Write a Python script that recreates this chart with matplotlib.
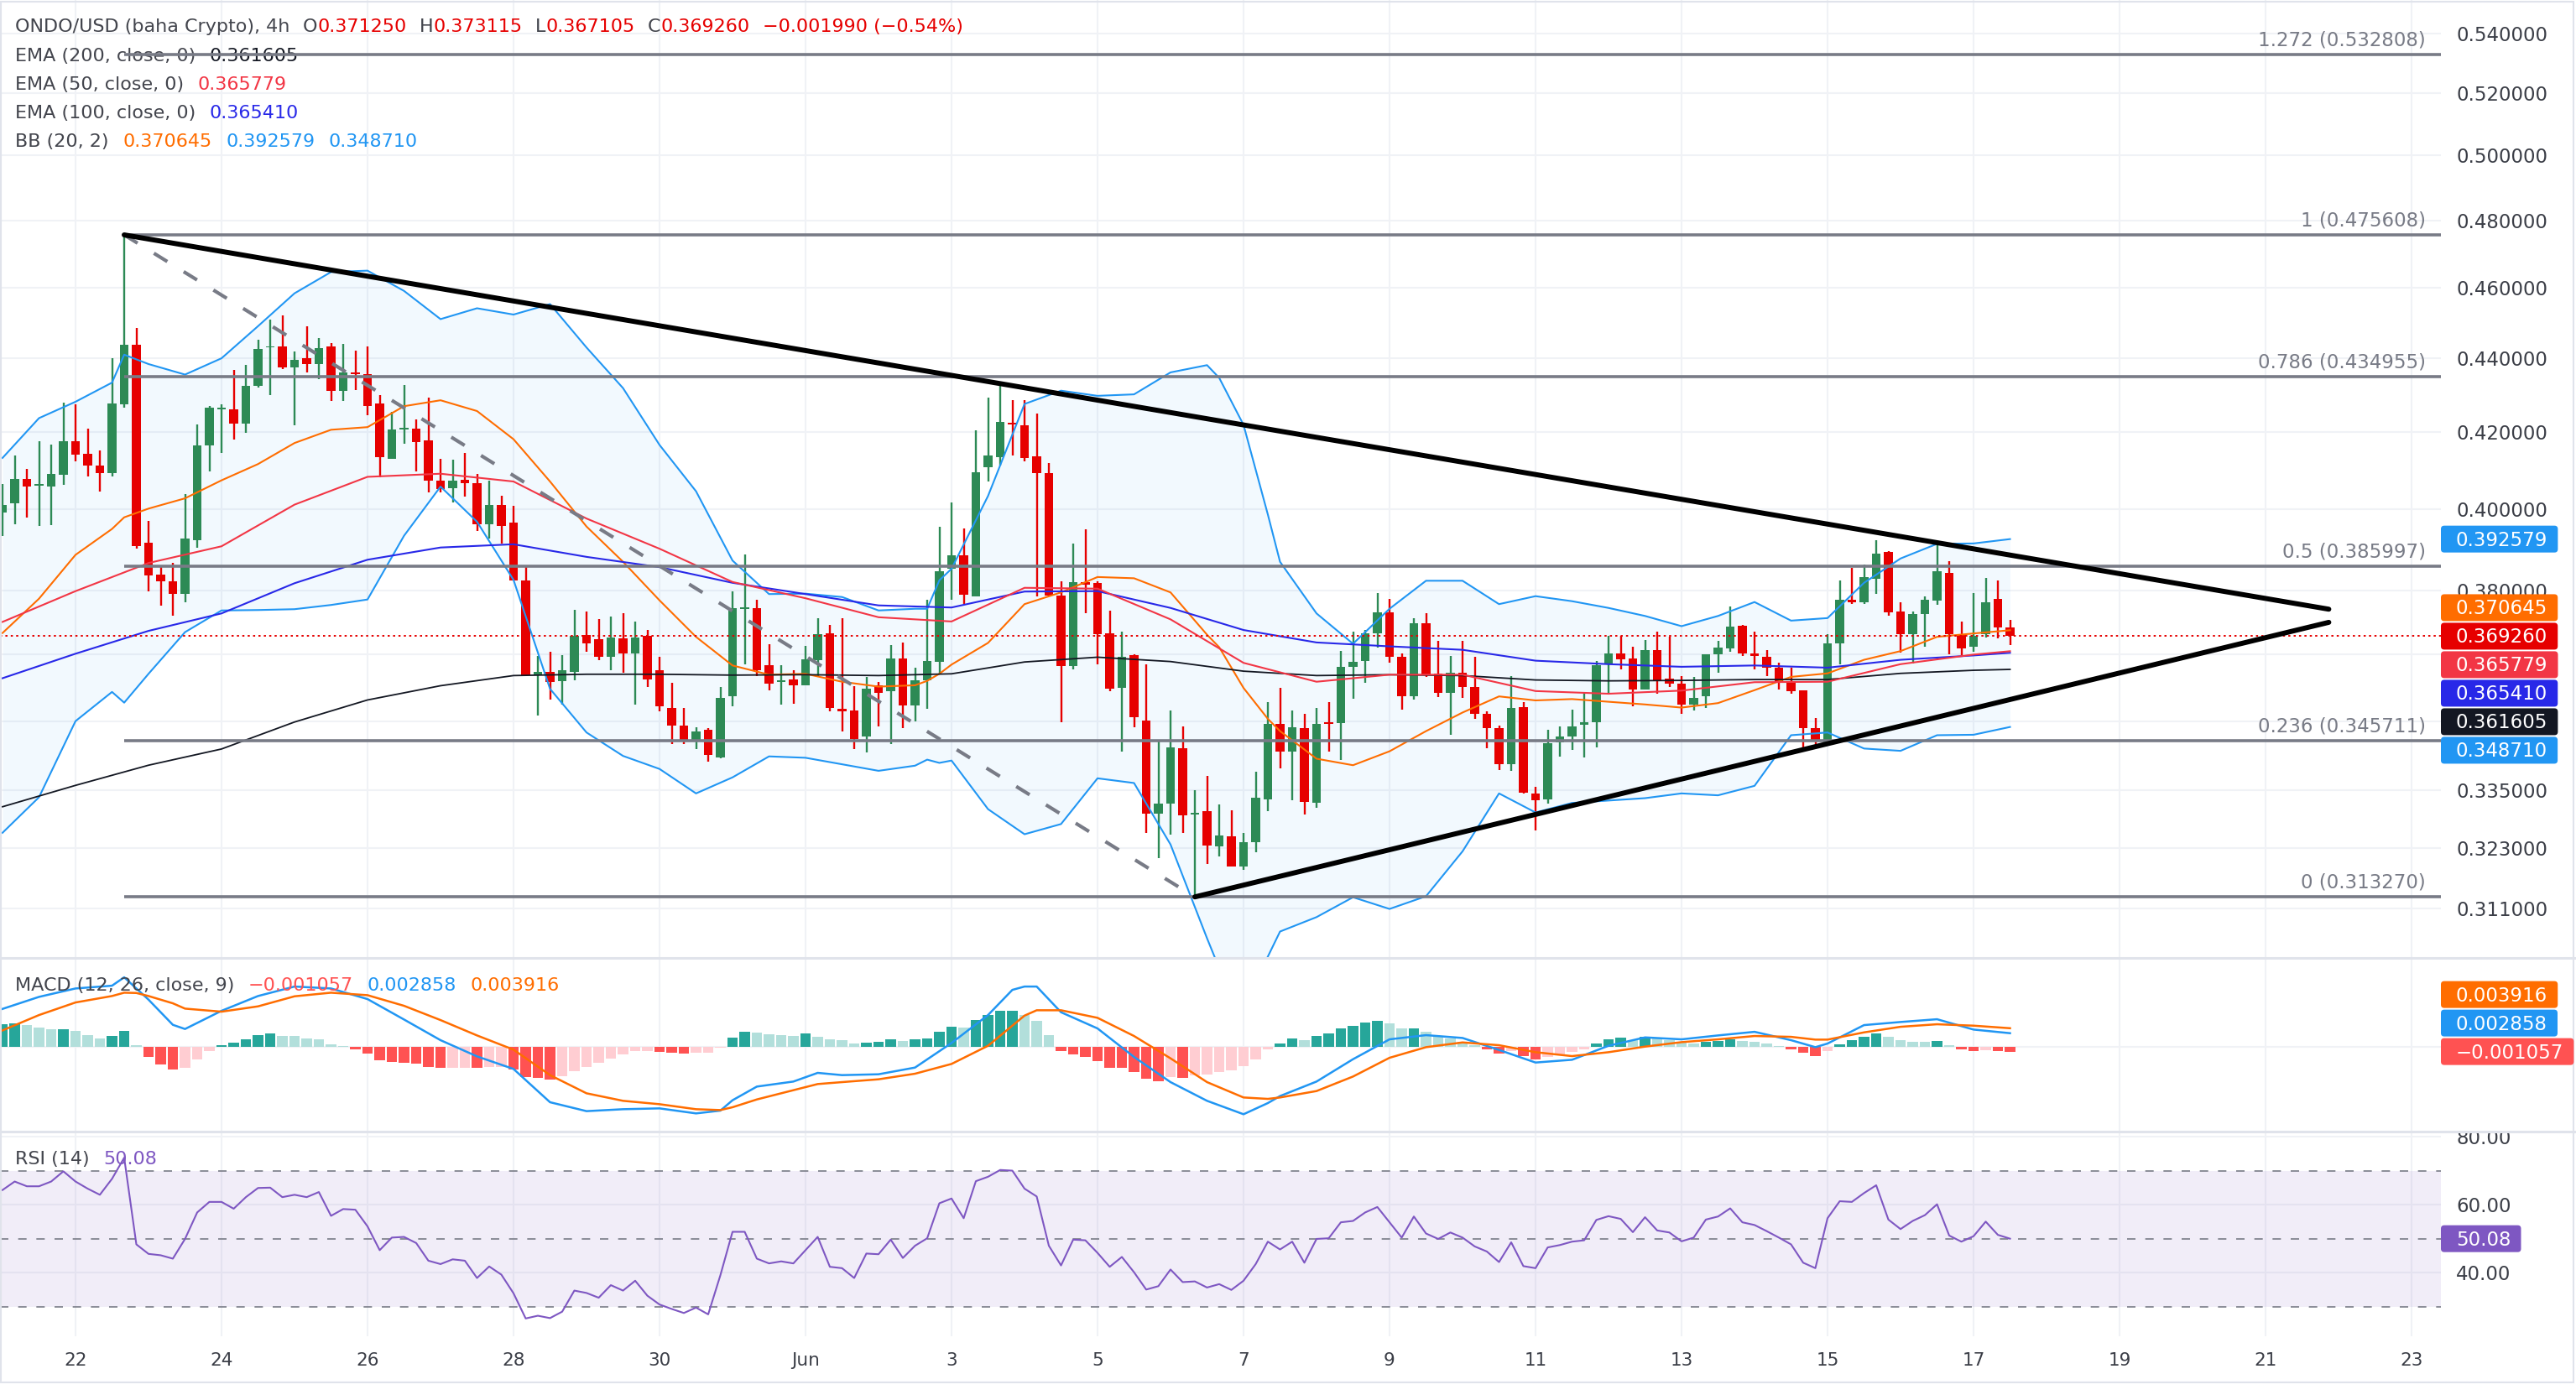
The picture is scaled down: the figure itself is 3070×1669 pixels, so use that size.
import numpy as np
import pandas as pd
import matplotlib
matplotlib.use("Agg")
import matplotlib.pyplot as plt
from matplotlib.patches import FancyBboxPatch, Rectangle
from matplotlib.lines import Line2D
from matplotlib.transforms import IdentityTransform
from matplotlib.ticker import FixedLocator, NullLocator, FuncFormatter

# ---------------- data ----------------
start = "2025-05-21 00:00"          # first 4h candle

opens = [0.3992, 0.4016, 0.4078, 0.4061, 0.4059, 0.4089, 0.4176, 0.4142, 0.4112, 0.4092,
         0.4274, 0.4438, 0.3916, 0.3839, 0.3822, 0.3793, 0.3923, 0.4165, 0.4260, 0.4261,
         0.4222, 0.4324, 0.4430, 0.4433, 0.4374, 0.4401, 0.4383, 0.4434, 0.4310, 0.4362,
         0.4357, 0.4277, 0.4129, 0.4206, 0.4210, 0.4179, 0.4073, 0.4053, 0.4076, 0.4067,
         0.3963, 0.4012, 0.3966, 0.3824, 0.3604, 0.3611, 0.3590, 0.3611, 0.3695, 0.3685,
         0.3644, 0.3688, 0.3652, 0.3694, 0.3615, 0.3529, 0.3491, 0.3459, 0.3481, 0.3420,
         0.3555, 0.3757, 0.3758, 0.3625, 0.3588, 0.3593, 0.3579, 0.3638, 0.3699, 0.3527,
         0.3523, 0.3466, 0.3579, 0.3566, 0.3641, 0.3534, 0.3592, 0.3634, 0.3853, 0.3886,
         0.3786, 0.4107, 0.4135, 0.4225, 0.4219, 0.4137, 0.4092, 0.3788, 0.3623, 0.3821,
         0.3819, 0.3699, 0.3575, 0.3649, 0.3502, 0.3302, 0.3323, 0.3441, 0.3299, 0.3306,
         0.3234, 0.3255, 0.3194, 0.3242, 0.3332, 0.3494, 0.3434, 0.3485, 0.3325, 0.3498,
         0.3495, 0.3621, 0.3636, 0.3699, 0.3749, 0.3645, 0.3555, 0.3722, 0.3606, 0.3563,
         0.3609, 0.3576, 0.3516, 0.3485, 0.3406, 0.3531, 0.3344, 0.3331, 0.3454, 0.3466,
         0.3492, 0.3498, 0.3627, 0.3652, 0.3641, 0.3570, 0.3660, 0.3596, 0.3583, 0.3536,
         0.3555, 0.3650, 0.3665, 0.3717, 0.3653, 0.3644, 0.3620, 0.3588, 0.3568, 0.3485,
         0.3452, 0.3676, 0.3778, 0.3773, 0.3828, 0.3894, 0.3750, 0.3698, 0.3745, 0.3777,
         0.3843, 0.3698, 0.3669, 0.3697, 0.3780, 0.371250]
highs = [0.4064, 0.4138, 0.4104, 0.4176, 0.4168, 0.4278, 0.4273, 0.4210, 0.4151, 0.4400,
         0.4756, 0.4486, 0.3971, 0.3862, 0.3867, 0.4039, 0.4221, 0.4269, 0.4273, 0.4368,
         0.4381, 0.4452, 0.4509, 0.4521, 0.4418, 0.4490, 0.4456, 0.4443, 0.4441, 0.4421,
         0.4434, 0.4300, 0.4254, 0.4327, 0.4233, 0.4293, 0.4130, 0.4127, 0.4145, 0.4090,
         0.4073, 0.4035, 0.4009, 0.3858, 0.3647, 0.3657, 0.3649, 0.3755, 0.3750, 0.3733,
         0.3738, 0.3747, 0.3726, 0.3708, 0.3645, 0.3586, 0.3529, 0.3486, 0.3484, 0.3577,
         0.3798, 0.3887, 0.3778, 0.3673, 0.3625, 0.3615, 0.3671, 0.3735, 0.3719, 0.3735,
         0.3578, 0.3599, 0.3587, 0.3672, 0.3678, 0.3620, 0.3778, 0.3957, 0.4017, 0.3952,
         0.4205, 0.4292, 0.4327, 0.4286, 0.4286, 0.4250, 0.4119, 0.3822, 0.3915, 0.3950,
         0.3823, 0.3752, 0.3704, 0.3651, 0.3628, 0.3459, 0.3523, 0.3488, 0.3351, 0.3381,
         0.3320, 0.3308, 0.3261, 0.3390, 0.3543, 0.3575, 0.3524, 0.3517, 0.3529, 0.3543,
         0.3658, 0.3704, 0.3708, 0.3795, 0.3780, 0.3652, 0.3735, 0.3747, 0.3682, 0.3647,
         0.3682, 0.3645, 0.3522, 0.3490, 0.3601, 0.3543, 0.3358, 0.3481, 0.3488, 0.3525,
         0.3563, 0.3636, 0.3693, 0.3693, 0.3669, 0.3684, 0.3704, 0.3691, 0.3601, 0.3599,
         0.3651, 0.3682, 0.3762, 0.3719, 0.3704, 0.3660, 0.3631, 0.3620, 0.3568, 0.3506,
         0.3698, 0.3824, 0.3856, 0.3864, 0.3922, 0.3897, 0.3773, 0.3751, 0.3786, 0.3914,
         0.3871, 0.3727, 0.3794, 0.3831, 0.3824, 0.373115]
lows = [0.3933, 0.3963, 0.3980, 0.3959, 0.3961, 0.4062, 0.4123, 0.4084, 0.4046, 0.4083,
        0.4266, 0.3902, 0.3799, 0.3764, 0.3740, 0.3773, 0.3905, 0.4098, 0.4144, 0.4180,
        0.4197, 0.4319, 0.4300, 0.4369, 0.4219, 0.4360, 0.4342, 0.4283, 0.4282, 0.4312,
        0.4245, 0.4082, 0.4129, 0.4170, 0.4098, 0.4044, 0.4043, 0.4018, 0.4033, 0.3946,
        0.3928, 0.3915, 0.3825, 0.3602, 0.3512, 0.3547, 0.3536, 0.3592, 0.3656, 0.3638,
        0.3614, 0.3608, 0.3536, 0.3577, 0.3521, 0.3450, 0.3449, 0.3439, 0.3411, 0.3418,
        0.3533, 0.3627, 0.3601, 0.3568, 0.3536, 0.3538, 0.3579, 0.3599, 0.3521, 0.3478,
        0.3439, 0.3432, 0.3489, 0.3450, 0.3485, 0.3500, 0.3528, 0.3606, 0.3779, 0.3768,
        0.3786, 0.4071, 0.4112, 0.4138, 0.4122, 0.3787, 0.3788, 0.3498, 0.3617, 0.3746,
        0.3627, 0.3567, 0.3433, 0.3487, 0.3261, 0.3211, 0.3259, 0.3262, 0.3133, 0.3198,
        0.3214, 0.3194, 0.3186, 0.3222, 0.3306, 0.3398, 0.3330, 0.3300, 0.3313, 0.3433,
        0.3416, 0.3549, 0.3585, 0.3666, 0.3632, 0.3525, 0.3547, 0.3598, 0.3553, 0.3469,
        0.3551, 0.3505, 0.3440, 0.3393, 0.3391, 0.3344, 0.3267, 0.3323, 0.3423, 0.3437,
        0.3421, 0.3442, 0.3559, 0.3617, 0.3533, 0.3570, 0.3561, 0.3577, 0.3517, 0.3524,
        0.3529, 0.3609, 0.3657, 0.3647, 0.3617, 0.3601, 0.3570, 0.3561, 0.3440, 0.3446,
        0.3449, 0.3628, 0.3768, 0.3768, 0.3793, 0.3740, 0.3654, 0.3630, 0.3669, 0.3766,
        0.3651, 0.3648, 0.3657, 0.3690, 0.3688, 0.367105]
closes = [0.4012, 0.4078, 0.4058, 0.4065, 0.4091, 0.4176, 0.4140, 0.4112, 0.4092, 0.4277,
          0.4438, 0.3908, 0.3836, 0.3822, 0.3793, 0.3927, 0.4165, 0.4264, 0.4265, 0.4222,
          0.4323, 0.4426, 0.4434, 0.4374, 0.4396, 0.4383, 0.4429, 0.4310, 0.4362, 0.4357,
          0.4269, 0.4133, 0.4207, 0.4211, 0.4174, 0.4073, 0.4052, 0.4073, 0.4067, 0.3963,
          0.4012, 0.3959, 0.3825, 0.3602, 0.3610, 0.3588, 0.3615, 0.3693, 0.3675, 0.3644,
          0.3689, 0.3652, 0.3690, 0.3594, 0.3532, 0.3491, 0.3459, 0.3478, 0.3427, 0.3552,
          0.3759, 0.3761, 0.3615, 0.3583, 0.3592, 0.3579, 0.3639, 0.3698, 0.3529, 0.3522,
          0.3461, 0.3572, 0.3563, 0.3641, 0.3534, 0.3592, 0.3635, 0.3847, 0.3885, 0.3790,
          0.4095, 0.4139, 0.4227, 0.4221, 0.4132, 0.4092, 0.3788, 0.3623, 0.3821, 0.3815,
          0.3698, 0.3572, 0.3644, 0.3508, 0.3302, 0.3323, 0.3443, 0.3298, 0.3304, 0.3235,
          0.3257, 0.3194, 0.3243, 0.3335, 0.3494, 0.3434, 0.3486, 0.3326, 0.3494, 0.3494,
          0.3622, 0.3633, 0.3699, 0.3749, 0.3645, 0.3555, 0.3722, 0.3602, 0.3563, 0.3609,
          0.3576, 0.3516, 0.3484, 0.3407, 0.3529, 0.3346, 0.3330, 0.3452, 0.3466, 0.3489,
          0.3497, 0.3625, 0.3652, 0.3639, 0.3570, 0.3660, 0.3591, 0.3583, 0.3536, 0.3552,
          0.3651, 0.3666, 0.3715, 0.3652, 0.3647, 0.3620, 0.3588, 0.3566, 0.3485, 0.3457,
          0.3676, 0.3778, 0.3773, 0.3832, 0.3890, 0.3748, 0.3698, 0.3745, 0.3778, 0.3847,
          0.3698, 0.3664, 0.3694, 0.3772, 0.371250, 0.369260]
change, change_pct = -0.001990, -0.54

# Bollinger bands (20, 2), sampled at these candles
bb_idx = [0, 3, 6, 9, 10, 12, 15, 18, 21, 24, 27, 30, 33, 36, 39, 42, 45, 48, 51, 54,
          57, 60, 63, 66, 69, 72, 75, 76, 77, 78, 81, 84, 87, 90, 93, 96, 99, 100, 102, 104,
          105, 108, 111, 114, 117, 120, 123, 126, 129, 132, 135, 138, 141, 144, 147, 150, 153, 156, 159, 162,
          165]
bb_upper = [0.4132, 0.4237, 0.4281, 0.4333, 0.4410, 0.4384, 0.4355, 0.4400, 0.4490, 0.4584,
            0.4646, 0.4650, 0.4591, 0.4510, 0.4541, 0.4523, 0.4553, 0.4430, 0.4318, 0.4166,
            0.4046, 0.3873, 0.3792, 0.3793, 0.3785, 0.3753, 0.3757, 0.3757, 0.3825, 0.3853,
            0.4034, 0.4275, 0.4311, 0.4297, 0.4301, 0.4361, 0.4381, 0.4346, 0.4219, 0.3987,
            0.3870, 0.3746, 0.3675, 0.3757, 0.3824, 0.3824, 0.3768, 0.3787, 0.3775, 0.3759,
            0.3740, 0.3716, 0.3740, 0.3773, 0.3729, 0.3735, 0.3819, 0.3878, 0.3914, 0.3915,
            0.392579]
bb_basis = [0.3700, 0.3781, 0.3887, 0.3951, 0.3980, 0.4002, 0.4028, 0.4074, 0.4116, 0.4171,
            0.4206, 0.4213, 0.4269, 0.4285, 0.4256, 0.4181, 0.4071, 0.3957, 0.3870, 0.3777,
            0.3691, 0.3625, 0.3604, 0.3606, 0.3588, 0.3577, 0.3580, 0.3590, 0.3606, 0.3627,
            0.3677, 0.3768, 0.3796, 0.3833, 0.3830, 0.3796, 0.3696, 0.3667, 0.3574, 0.3505,
            0.3478, 0.3418, 0.3404, 0.3434, 0.3478, 0.3519, 0.3555, 0.3546, 0.3549, 0.3543,
            0.3537, 0.3530, 0.3540, 0.3569, 0.3599, 0.3607, 0.3638, 0.3658, 0.3691, 0.3699,
            0.370645]
bb_lower = [0.3262, 0.3336, 0.3500, 0.3565, 0.3541, 0.3606, 0.3702, 0.3753, 0.3754, 0.3756,
            0.3766, 0.3779, 0.3934, 0.4058, 0.3969, 0.3826, 0.3572, 0.3475, 0.3424, 0.3396,
            0.3344, 0.3378, 0.3423, 0.3420, 0.3406, 0.3392, 0.3403, 0.3416, 0.3409, 0.3414,
            0.3311, 0.3259, 0.3280, 0.3376, 0.3366, 0.3238, 0.3052, 0.2995, 0.2935, 0.3017,
            0.3065, 0.3093, 0.3132, 0.3109, 0.3134, 0.3224, 0.3344, 0.3304, 0.3324, 0.3329,
            0.3334, 0.3344, 0.3340, 0.3360, 0.3469, 0.3475, 0.3440, 0.3435, 0.3469, 0.3470,
            0.348710]

# EMAs, sampled every 6 candles
ema_idx = [0, 6, 12, 18, 24, 30, 36, 42, 48, 54, 60, 66, 72, 78, 84, 90, 96, 102, 108, 114,
           120, 126, 132, 138, 144, 150, 156, 162, 165]
ema50 = [0.3726, 0.3799, 0.3867, 0.3908, 0.4012, 0.4083, 0.4091, 0.4071, 0.3977, 0.3902,
         0.3821, 0.3782, 0.3737, 0.3727, 0.3807, 0.3805, 0.3732, 0.3631, 0.3588, 0.3604,
         0.3604, 0.3567, 0.3561, 0.3568, 0.3587, 0.3588, 0.3628, 0.3650, 0.365779]
ema100 = [0.3596, 0.3652, 0.3705, 0.3746, 0.3818, 0.3875, 0.3905, 0.3913, 0.3882, 0.3857,
          0.3819, 0.3792, 0.3765, 0.3760, 0.3798, 0.3799, 0.3759, 0.3707, 0.3678, 0.3669,
          0.3661, 0.3636, 0.3628, 0.3622, 0.3625, 0.3620, 0.3638, 0.3648, 0.365410]
ema200 = [0.3316, 0.3361, 0.3404, 0.3439, 0.3498, 0.3547, 0.3579, 0.3602, 0.3605, 0.3605,
          0.3603, 0.3604, 0.3602, 0.3606, 0.3633, 0.3644, 0.3634, 0.3612, 0.3602, 0.3604,
          0.3602, 0.3592, 0.3590, 0.3591, 0.3593, 0.3593, 0.3607, 0.3614, 0.361605]

# fibonacci retracement drawn between the swing high and the swing low
fib_ratios = ["1.272", "1", "0.786", "0.5", "0.236", "0"]
fib_prices = [0.532808, 0.475608, 0.434955, 0.385997, 0.345711, 0.313270]
swing_x = [10, 98]
swing_y = [0.475608, 0.313270]
trend_hi_x, trend_hi_y = [10, 191.2], [0.475608, 0.3756]
trend_lo_x, trend_lo_y = [98, 191.2], [0.313270, 0.3725]
price_ticks = [0.54, 0.52, 0.50, 0.48, 0.46, 0.44, 0.42, 0.40, 0.38, 0.365, 0.35, 0.335, 0.323, 0.311]
ticks_under_tags = [0.365, 0.35]

# MACD (12, 26, close, 9)
macd_idx = [0, 3, 6, 9, 10, 11, 12, 14, 15, 18, 21, 24, 27, 30, 33, 36, 39, 42, 45, 48,
            51, 54, 57, 59, 60, 62, 65, 67, 69, 72, 75, 78, 81, 83, 84, 85, 87, 90, 93, 96,
            99, 102, 104, 105, 108, 111, 114, 117, 120, 123, 126, 129, 132, 135, 138, 141, 144, 147, 149, 150,
            153, 156, 159, 162, 165]
macd_line = [0.00803, 0.01059, 0.01238, 0.01297, 0.01476, 0.01238, 0.01000, 0.00464, 0.00375, 0.00762,
             0.01077, 0.01279, 0.01238, 0.01012, 0.00577, 0.00137, -0.00208, -0.00476, -0.01184, -0.01374,
             -0.01333, -0.01315, -0.01422, -0.01363, -0.01142, -0.00851, -0.00744, -0.00559, -0.00607, -0.00589,
             -0.00446, 0.00077, 0.00672, 0.01208, 0.01279, 0.01279, 0.00732, 0.00387, -0.00220, -0.00756,
             -0.01154, -0.01440, -0.01202, -0.01053, -0.00744, -0.00268, 0.00155, 0.00244, 0.00184, -0.00071,
             -0.00339, -0.00280, 0.00018, 0.00196, 0.00155, 0.00238, 0.00315, 0.00137, -0.00012, 0.00065,
             0.00458, 0.00524, 0.00583, 0.00363, 0.002858]
macd_signal = [0.00345, 0.00672, 0.00940, 0.01077, 0.01148, 0.01142, 0.01077, 0.00922, 0.00809, 0.00744,
               0.00857, 0.01071, 0.01148, 0.01095, 0.00869, 0.00565, 0.00238, -0.00065, -0.00607, -0.00994,
               -0.01154, -0.01226, -0.01333, -0.01351, -0.01291, -0.01125, -0.00928, -0.00797, -0.00756, -0.00696,
               -0.00577, -0.00369, 0.00018, 0.00446, 0.00660, 0.00774, 0.00774, 0.00613, 0.00226, -0.00250,
               -0.00756, -0.01083, -0.01113, -0.01083, -0.00946, -0.00637, -0.00238, -0.00012, 0.00089, 0.00030,
               -0.00119, -0.00202, -0.00119, 0.00000, 0.00095, 0.00155, 0.00226, 0.00208, 0.00149, 0.00149,
               0.00303, 0.00422, 0.00476, 0.00446, 0.003916]
macd_hist = [0.00476, 0.00494, 0.00452, 0.00405, 0.00369, 0.00372, 0.00333, 0.00244, 0.00179, 0.00226,
             0.00333, 0.0003, -0.0022, -0.00375, -0.00488, -0.00446, -0.00268, -0.00089, 0.0003, 0.00077,
             0.00155, 0.0025, 0.0028, 0.00232, 0.0022, 0.00173, 0.00155, 0.00048, 0.00018, -0.00054,
             -0.00143, -0.00286, -0.00327, -0.00339, -0.00357, -0.00428, -0.00458, -0.00455, -0.00446, -0.00458,
             -0.0044, -0.0043, -0.00488, -0.00649, -0.00672, -0.00696, -0.00637, -0.00518, -0.00434, -0.00339,
             -0.0025, -0.00173, -0.00101, -0.00089, -0.00113, -0.00131, -0.00143, -0.00125, -0.00122, -0.0003,
             0.00184, 0.00315, 0.00298, 0.00268, 0.00244, 0.00232, 0.0028, 0.00214, 0.00149, 0.00137,
             0.00065, 0.00089, 0.00107, 0.00155, 0.00125, 0.00149, 0.00179, 0.00315, 0.00422, 0.00399,
             0.00565, 0.00672, 0.00762, 0.00764, 0.00672, 0.00541, 0.00238, -0.00089, -0.00161, -0.0022,
             -0.00309, -0.00446, -0.00458, -0.00536, -0.00684, -0.00738, -0.00649, -0.00666, -0.00607, -0.00589,
             -0.00536, -0.00506, -0.00417, -0.00268, -0.0006, 0.00065, 0.00167, 0.00137, 0.0022, 0.0028,
             0.00387, 0.0044, 0.00506, 0.00541, 0.00494, 0.00387, 0.0039, 0.00315, 0.00226, 0.00179,
             0.00107, 0.0003, -0.0006, -0.00143, -0.00089, -0.00202, -0.00268, -0.0022, -0.00161, -0.00113,
             -0.0006, 0.0006, 0.00155, 0.0019, 0.00137, 0.00208, 0.00167, 0.00137, 0.00101, 0.0006,
             0.00095, 0.00119, 0.00155, 0.00119, 0.00095, 0.0006, 0.00018, -0.00054, -0.00131, -0.00202,
             -0.00089, 0.00048, 0.00137, 0.00214, 0.0028, 0.00208, 0.00137, 0.00101, 0.00095, 0.00119,
             0.0003, -0.0006, -0.00089, -0.00071, -0.00089, -0.001057]

# RSI (14)
rsi = [64.4, 66.9, 65.5, 65.5, 66.9, 69.9, 66.9, 64.8, 63.0, 67.7,
       73.9, 48.4, 45.6, 45.2, 44.2, 50.0, 57.8, 60.9, 60.9, 58.9,
       62.3, 65.0, 65.1, 62.3, 63.0, 62.3, 63.8, 56.8, 58.8, 58.6,
       53.7, 46.7, 50.4, 50.6, 48.8, 43.6, 42.6, 44.0, 43.6, 38.5,
       41.9, 39.5, 34.0, 26.6, 27.4, 26.7, 28.6, 34.8, 34.1, 32.7,
       36.4, 34.8, 37.7, 33.3, 30.7, 29.4, 28.2, 29.8, 27.8, 39.3,
       52.1, 52.1, 44.2, 42.8, 43.4, 42.8, 46.7, 50.6, 41.8, 41.4,
       38.5, 45.7, 45.5, 49.8, 44.4, 48.0, 50.2, 60.5, 61.9, 56.1,
       67.0, 68.3, 70.3, 70.1, 64.8, 62.5, 48.0, 42.2, 49.8, 49.6,
       45.9, 41.8, 44.7, 40.2, 35.1, 36.1, 41.0, 37.3, 37.5, 35.7,
       36.7, 35.0, 37.7, 42.6, 49.2, 46.9, 49.2, 43.0, 50.0, 50.2,
       54.9, 55.3, 57.8, 59.4, 54.9, 50.4, 56.6, 51.6, 50.0, 51.9,
       50.4, 47.8, 46.3, 43.2, 49.0, 42.0, 41.4, 47.5, 48.2, 49.2,
       49.6, 55.6, 56.7, 55.9, 52.0, 56.4, 52.5, 51.9, 49.3, 50.4,
       55.7, 56.6, 59.0, 54.9, 54.1, 52.3, 50.4, 48.4, 43.0, 41.4,
       56.1, 61.1, 60.9, 63.5, 65.8, 55.7, 52.9, 55.3, 57.0, 60.2,
       51.0, 49.2, 50.8, 55.1, 51.2, 50.08]
rsi_levels = [70, 50, 30]
rsi_ticks = [40, 60, 80]

# ---------------- style ----------------
GREEN, RED = "#2D8A55", "#E60000"
BLUE, ORANGE = "#2196F3", "#FF6D00"
EMA50_C, EMA100_C, EMA200_C = "#F23645", "#2828E8", "#131722"
PURPLE, FIB_C = "#7E57C2", "#787B86"
LBL, AXTXT = "#43454D", "#3B3E47"
GRID, SEP = "#F0F2F6", "#E0E3EB"
LEG_FS, AX_FS = 16, 16.5

W, H = 3070, 1669
PX0, PXSTEP = 3.0, 14.5        # centre of first candle, candle spacing (pixels)
PLOT_R = 2909                  # right edge of the panes (price scale beyond)

fig = plt.figure(figsize=(W / 100, H / 100), dpi=100)
fig.patch.set_facecolor("white")


def pane(top, bottom):
    return fig.add_axes([0, 1 - bottom / H, PLOT_R / W, (bottom - top) / H])


ax = pane(0, 1142)
axm = pane(1142, 1349)
axr = pane(1349, 1593)
xlim = (-PX0 / PXSTEP, (PLOT_R - PX0) / PXSTEP)

t0 = pd.Timestamp(start)
tick_dates = pd.date_range("2025-05-22", "2025-06-23", freq="2D")
tick_pos = [(d - t0) / pd.Timedelta(hours=4) for d in tick_dates]
tick_lab = ["Jun" if d.day == 1 else str(d.day) for d in tick_dates]

for a in (ax, axm, axr):
    for s in a.spines.values():
        s.set_visible(False)
    a.set_xticks(tick_pos)
    a.grid(axis="x", color=GRID, lw=1.5)
    a.set_axisbelow(True)
    a.tick_params(length=0)
    a.tick_params(axis="x", labelbottom=False)
axr.tick_params(axis="x", labelbottom=True, labelsize=15.5, labelcolor=AXTXT, pad=13.5)
axr.set_xticklabels(tick_lab)

# ---------------- price pane ----------------
ax.set_yscale("log")
o, h, l, c = map(np.array, (opens, highs, lows, closes))
x = np.arange(len(c))
col = np.where(c >= o, GREEN, RED)

ax.fill_between(bb_idx, bb_lower, bb_upper, color=BLUE, alpha=0.055, lw=0, zorder=1)
ax.vlines(x, l, h, colors=col, lw=1.7, zorder=2)
ax.bar(x, np.abs(c - o), bottom=np.minimum(o, c), width=0.72, color=col, lw=0, zorder=2)

ax.plot(bb_idx, bb_upper, color=BLUE, lw=1.5, zorder=3)
ax.plot(bb_idx, bb_lower, color=BLUE, lw=1.5, zorder=3)
ax.plot(bb_idx, bb_basis, color=ORANGE, lw=1.5, zorder=3)
ax.plot(ema_idx, ema200, color=EMA200_C, lw=1.3, zorder=3)
ax.plot(ema_idx, ema100, color=EMA100_C, lw=1.5, zorder=3)
ax.plot(ema_idx, ema50, color=EMA50_C, lw=1.5, zorder=3)

ax.hlines(fib_prices, min(swing_x), xlim[1], colors=FIB_C, lw=2.6, zorder=6)
for r, p in zip(fib_ratios, fib_prices):
    ax.annotate(f"{r} ({p:.6f})", xy=(2891 / PLOT_R, p), xycoords=("axes fraction", "data"),
                xytext=(0, 4), textcoords="offset points", ha="right", va="bottom",
                fontsize=16.5, color=FIB_C, zorder=6)
ax.plot(swing_x, swing_y, color=FIB_C, lw=3, dashes=(4.5, 5.5), zorder=6)
ax.plot(trend_hi_x, trend_hi_y, color="black", lw=4.3, solid_capstyle="round", zorder=7)
ax.plot(trend_lo_x, trend_lo_y, color="black", lw=4.3, solid_capstyle="round", zorder=7)
ax.axhline(c[-1], color=RED, lw=1.4, ls=(0, (1.3, 2.0)), zorder=6)

ax.set_xlim(*xlim)
ax.set_ylim(0.30144, 0.55155)
ax.yaxis.set_major_locator(FixedLocator(price_ticks))
ax.yaxis.set_minor_locator(NullLocator())
ax.yaxis.set_major_formatter(FuncFormatter(
    lambda v, p: "" if any(abs(v - t) < 1e-9 for t in ticks_under_tags) else f"{v:.6f}"))
ax.yaxis.tick_right()
ax.tick_params(axis="y", labelsize=AX_FS, labelcolor=AXTXT, pad=13)
ax.grid(axis="y", color=GRID, lw=1.5)

# ---------------- MACD pane ----------------
hist = np.array(macd_hist)
prev = np.concatenate([[hist[0]], hist[:-1]])
hcol = np.where(hist >= 0, np.where(hist >= prev, "#26A69A", "#B2DFDB"),
                np.where(hist < prev, "#FF5252", "#FFCDD2"))
axm.bar(x, hist, width=0.86, color=hcol, lw=0, zorder=2)
axm.plot(macd_idx, macd_line, color=BLUE, lw=1.8, zorder=3)
axm.plot(macd_idx, macd_signal, color=ORANGE, lw=1.8, zorder=3)
axm.set_xlim(*xlim)
axm.set_ylim(-0.01809, 0.01888)
axm.set_yticks([0])
axm.tick_params(axis="y", labelleft=False, labelright=False)
axm.grid(axis="y", color=GRID, lw=1.5)

# ---------------- RSI pane ----------------
axr.axhspan(min(rsi_levels), max(rsi_levels), color=PURPLE, alpha=0.1, lw=0, zorder=1)
for lvl in rsi_levels:
    axr.axhline(lvl, color=FIB_C, lw=1.2, ls=(0, (6, 7)), zorder=2)
axr.plot(x, rsi, color=PURPLE, lw=1.5, zorder=3)
axr.set_xlim(*xlim)
axr.set_ylim(21.36, 81.6)
axr.set_yticks(rsi_ticks)
axr.yaxis.set_major_formatter(FuncFormatter(lambda v, p: f"{v:.2f}"))
axr.yaxis.tick_right()
axr.tick_params(axis="y", labelsize=AX_FS, labelcolor=AXTXT, pad=13)
axr.grid(axis="y", color=GRID, lw=1.5)


# ---------------- legends ----------------
def fmt(v, d=6):
    return f"{v:.{d}f}".replace("-", "\u2212")


def text_row(a, x_px, y_px, parts, size=LEG_FS):
    prev_t = a.text(x_px / W, 1 - y_px / H, parts[0][0], color=parts[0][1], fontsize=size,
                    ha="left", va="center", transform=fig.transFigure, zorder=5)
    for txt, colr, gap in parts[1:]:
        prev_t = a.annotate(txt, xy=(1, 0.5), xycoords=prev_t, xytext=(gap, 0),
                            textcoords="offset points", color=colr, fontsize=size,
                            ha="left", va="center", zorder=5, annotation_clip=False)


text_row(ax, 18, 32, [("ONDO/USD (baha Crypto), 4h", LBL),
                      ("O", LBL, 11), (fmt(o[-1]), RED, 0),
                      ("H", LBL, 11), (fmt(h[-1]), RED, 0),
                      ("L", LBL, 11), (fmt(l[-1]), RED, 0),
                      ("C", LBL, 11), (fmt(c[-1]), RED, 0),
                      (f"{fmt(change)} ({fmt(change_pct, 2)}%)", RED, 11)])
text_row(ax, 18, 67, [("EMA (200, close, 0)", LBL), (fmt(ema200[-1]), EMA200_C, 12)])
text_row(ax, 18, 101, [("EMA (50, close, 0)", LBL), (fmt(ema50[-1]), EMA50_C, 12)])
text_row(ax, 18, 135, [("EMA (100, close, 0)", LBL), (fmt(ema100[-1]), EMA100_C, 12)])
text_row(ax, 18, 169, [("BB (20, 2)", LBL), (fmt(bb_basis[-1]), ORANGE, 12),
                       (fmt(bb_upper[-1]), BLUE, 12), (fmt(bb_lower[-1]), BLUE, 12)])
text_row(axm, 18, 1175, [("MACD (12, 26, close, 9)", LBL), (fmt(hist[-1]), "#FF5252", 12),
                         (fmt(macd_line[-1]), BLUE, 12), (fmt(macd_signal[-1]), ORANGE, 12)])
text_row(axr, 18, 1382, [("RSI (14)", LBL), (fmt(rsi[-1], 2), PURPLE, 12)])

# ---------------- frame, separators ----------------
fig.add_artist(Rectangle((PLOT_R / W, 1 - 1348 / H), (W - PLOT_R - 4) / W, (1348 - 1142) / H,
                         transform=fig.transFigure, facecolor="white", edgecolor="none", zorder=1))
for ysep in (1142, 1349):
    fig.add_artist(Line2D([0, (W - 2) / W], [1 - ysep / H] * 2, transform=fig.transFigure,
                          color=SEP, lw=2.2, zorder=8))
fig.add_artist(Rectangle((1 / W, 1 - 1648 / H), (W - 4) / W, 1646 / H, transform=fig.transFigure,
                         facecolor="none", edgecolor=SEP, lw=1.5, zorder=8))

# ---------------- price-scale tags ----------------
renderer = fig.canvas.get_renderer()


def stack(ys, anchor, gap=34):
    ys = list(ys)
    a = ys[anchor]
    above = sorted([i for i in range(len(ys)) if i != anchor and ys[i] <= a], key=lambda i: -ys[i])
    last = a
    for i in above:
        ys[i] = min(ys[i], last - gap)
        last = ys[i]
    below = sorted([i for i in range(len(ys)) if i != anchor and ys[i] > a], key=lambda i: ys[i])
    last = a
    for i in below:
        ys[i] = max(ys[i], last + gap)
        last = ys[i]
    return ys


def tags(a, items, anchor, digits=6):
    ys = [H - a.transData.transform((0, v))[1] for v, _ in items]
    ys = stack(ys, anchor)
    for (v, face), yt in zip(items, ys):
        t = fig.text(2927 / W, 1 - (yt + 8) / H, fmt(v, digits), color="white", fontsize=AX_FS,
                     ha="left", va="baseline", zorder=10)
        bb = t.get_window_extent(renderer)
        fig.add_artist(FancyBboxPatch((PLOT_R, H - yt - 16), bb.x1 + 12 - PLOT_R, 32,
                                      boxstyle="round,pad=0,rounding_size=4",
                                      transform=IdentityTransform(), facecolor=face,
                                      edgecolor="none", zorder=9))


tags(ax, [(bb_upper[-1], BLUE), (bb_basis[-1], ORANGE), (c[-1], RED), (ema50[-1], EMA50_C),
          (ema100[-1], EMA100_C), (ema200[-1], EMA200_C), (bb_lower[-1], BLUE)], anchor=2)
tags(axm, [(macd_signal[-1], ORANGE), (macd_line[-1], BLUE), (hist[-1], "#FF5252")], anchor=2)
tags(axr, [(rsi[-1], PURPLE)], anchor=0, digits=2)

fig.savefig("out.png", dpi=100)
